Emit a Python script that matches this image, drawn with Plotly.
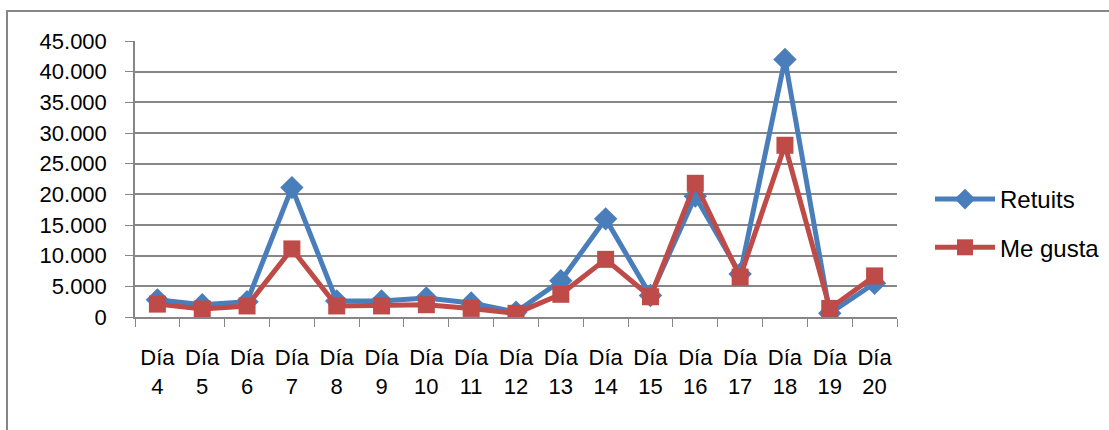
import plotly.graph_objects as go

categories = ["Día 4", "Día 5", "Día 6", "Día 7", "Día 8", "Día 9", "Día 10", "Día 11", "Día 12",
              "Día 13", "Día 14", "Día 15", "Día 16", "Día 17", "Día 18", "Día 19", "Día 20"]
retuits = [2800, 2000, 2500, 21100, 2600, 2600, 3100, 2300, 800, 5900, 16000, 3500, 19700, 7000, 42000, 600, 5500]
me_gusta = [2100, 1300, 1800, 11100, 1800, 1800, 2000, 1400, 600, 3700, 9400, 3300, 21800, 6500, 28000, 1400, 6700]
tick_vals = [0, 5000, 10000, 15000, 20000, 25000, 30000, 35000, 40000, 45000]

labels = [c.replace(" ", "<br>") for c in categories]

W, H = 1109, 430
ml, mr, mt, mb = 135, 212, 41, 113
pw, ph = W - ml - mr, H - mt - mb

FONT = "Liberation Sans"
fig = go.Figure()
fig.add_trace(go.Scatter(x=labels, y=retuits, name="Retuits", mode="lines+markers",
                         line=dict(color="#4A7EBB", width=5),
                         marker=dict(symbol="diamond", size=18, color="#4A7EBB"),
                         legendgroup="a"))
fig.add_trace(go.Scatter(x=labels, y=me_gusta, name="Me gusta", mode="lines+markers",
                         line=dict(color="#BE4B48", width=5),
                         marker=dict(symbol="square", size=17, color="#BE4B48"),
                         legendgroup="b"))

def px_x(p):
    return (p - ml) / pw

def px_y(p):
    return (H - mb - p) / ph

fig.update_layout(
    width=W, height=H,
    margin=dict(l=ml, r=mr, t=mt, b=mb, autoexpand=False),
    paper_bgcolor="white", plot_bgcolor="white",
    separators=",.",
    font=dict(family=FONT, size=22, color="black"),
    showlegend=True,
    legend=dict(x=px_x(930), y=px_y(177), xanchor="left", yanchor="top",
                font=dict(size=24), tracegroupgap=14, itemwidth=60,
                bgcolor="rgba(0,0,0,0)"),
    xaxis=dict(type="category", showgrid=False, showline=True, linecolor="#868686", linewidth=1.5,
               ticks="outside", tickson="boundaries", ticklen=8, tickcolor="#868686",
               tickfont=dict(size=22), ticklabelstandoff=20, automargin=False,
               range=[-0.5, len(categories) - 0.5]),
    yaxis=dict(range=[0, 45000], tickvals=tick_vals, tickformat=",d",
               showgrid=True, gridcolor="#868686", gridwidth=1.5,
               showline=True, linecolor="#868686", linewidth=1.5,
               ticks="outside", ticklen=8, tickcolor="#868686",
               tickfont=dict(size=22), ticklabelstandoff=14, automargin=False,
               zeroline=False),
    shapes=[dict(type="rect", xref="paper", yref="paper",
                 x0=px_x(7), x1=px_x(1120), y0=px_y(440), y1=px_y(11),
                 line=dict(color="#868686", width=2), layer="below")],
)

fig.write_html("out.html", config={"displayModeBar": False},
               post_script="document.body.style.margin='0px';")
